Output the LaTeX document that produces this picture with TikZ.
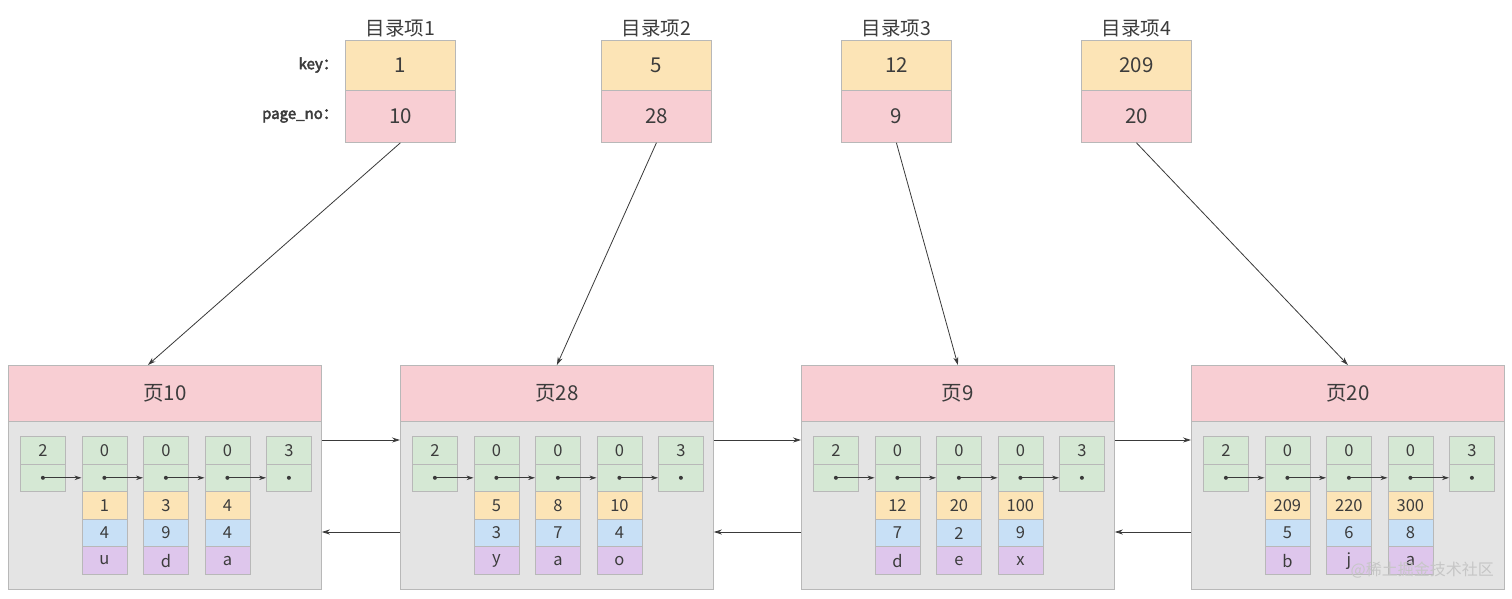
\documentclass[tikz,border=0pt]{standalone}
\usepackage{fontspec}
\setmainfont{Noto Sans CJK SC}
\newfontfamily\lblfont{Noto Sans CJK SC}[FakeBold=3]
\usetikzlibrary{arrows.meta}
\definecolor{cyel}{HTML}{FCE4B6}
\definecolor{cpink}{HTML}{F8CED3}
\definecolor{cgreen}{HTML}{D5E8D4}
\definecolor{cblue}{HTML}{C8E0F6}
\definecolor{cpurp}{HTML}{DEC6EC}
\definecolor{cbody}{HTML}{E4E4E4}
\definecolor{cborder}{HTML}{B8B8B8}
\definecolor{ctext}{HTML}{3C3C3C}
\definecolor{cline}{HTML}{3A3A3A}
\begin{document}
\begin{tikzpicture}[x=1pt,y=-1pt,
  box/.style={draw=cborder, line width=0.8pt, inner sep=0pt, anchor=north west, text=ctext},
  cell/.style={box, minimum width=45pt, minimum height=27.6pt, font=\fontsize{16.5}{16.5}\selectfont},
  gcell/.style={cell, fill=cgreen},
  ycell/.style={cell, fill=cyel},
  bcell/.style={cell, fill=cblue},
  pcell/.style={cell, fill=cpurp},
  dircell/.style={box, minimum width=110pt, font=\fontsize{20.5}{20.5}\selectfont},
  pagehead/.style={box, fill=cpink, minimum width=313pt, minimum height=56pt, font=\fontsize{20.5}{20.5}\selectfont},
  pagebody/.style={box, fill=cbody, minimum width=313pt, minimum height=168pt},
  title/.style={text=ctext, font=\fontsize{19.5}{19.5}\selectfont, inner sep=0pt},
  lbl/.style={text=ctext, font=\lblfont\fontsize{15}{15}\selectfont, anchor=east, inner sep=0pt},
  arr/.style={draw=cline, line width=0.8pt, -{Stealth[length=8pt,width=5pt]}},
  sarr/.style={draw=cline, line width=0.8pt, -{Stealth[length=7pt,width=4.5pt]}},
]
\useasboundingbox (0,0) rectangle (1512,598);
\fill[white] (0,0) rectangle (1512,598);

% directory entries
\foreach \i/\x/\k/\p in {1/345/1/10, 2/601/5/28, 3/841/12/9, 4/1081/209/20}{
  \node[dircell, fill=cyel, minimum height=50pt] (k\i) at (\x,40) {\k};
  \node[dircell, fill=cpink, minimum height=52pt] (p\i) at (\x,90) {\p};
  \node[title, anchor=south] (t\i) at ([yshift=3pt]k\i.north) {目录项\i};
}
\node[lbl] (lk) at (338,65) {key：};
\node[lbl] (lp) at (338,116) {page\_no：};

% pages
\foreach \i/\L/\nm/\ka/\kb/\kc/\va/\vb/\vc/\wa/\wb/\wc in {
  1/8/10/1/3/4/4/9/4/u/d/a,
  2/400/28/5/8/10/3/7/4/y/a/o,
  3/801/9/12/20/100/7/2/9/d/e/x,
  4/1191/20/209/220/300/5/6/8/b/j/a}{
  \node[pagehead] (h\i) at (\L,365) {页\nm};
  \node[pagebody] (b\i) at (\L,421) {};
  % infimum
  \node[gcell] (c\i0a) at (\L+12,436) {2};
  \node[gcell] (c\i0b) at (\L+12,463.6) {};
  % user records
  \foreach \c/\kk/\vv/\ww in {1/\ka/\va/\wa, 2/\kb/\vb/\wb, 3/\kc/\vc/\wc}{
    \node[gcell] (c\i\c a) at (\L+12+61.5*\c,436) {0};
    \node[gcell] (c\i\c b) at (\L+12+61.5*\c,463.6) {};
    \node[ycell] (c\i\c y) at (\L+12+61.5*\c,491.2) {\kk};
    \node[bcell] (c\i\c u) at (\L+12+61.5*\c,518.8) {\vv};
    \node[pcell] (c\i\c p) at (\L+12+61.5*\c,546.4) {\ww};
  }
  % supremum
  \node[gcell] (c\i4a) at (\L+12+246,436) {3};
  \node[gcell] (c\i4b) at (\L+12+246,463.6) {};
  \foreach \c in {0,...,4}{
    \fill[cline] (c\i\c b.center) circle (2pt);
  }
  \foreach \c/\n in {0/1,1/2,2/3,3/4}{
    \draw[sarr] (c\i\c b.center) -- (c\i\n b.west);
  }
}

% links between pages
\foreach \a/\b in {1/2,2/3,3/4}{
  \draw[arr] ([yshift=-19pt]b\a.north east) -- ([yshift=-19pt]b\b.north west);
  \draw[arr] ([yshift=-111pt]b\b.north west) -- ([yshift=-111pt]b\a.north east);
}

% directory pointers
\draw[arr] (p1.south) -- ([xshift=-17pt]h1.north);
\draw[arr] (p2.south) -- (h2.north);
\draw[arr] (p3.south) -- (h3.north);
\draw[arr] (p4.south) -- (h4.north);

% watermark
\node[text=gray!45, font=\fontsize{16}{16}\selectfont, anchor=east, inner sep=0pt] (wm) at (1494,570) {@稀土掘金技术社区};
\end{tikzpicture}
\end{document}
